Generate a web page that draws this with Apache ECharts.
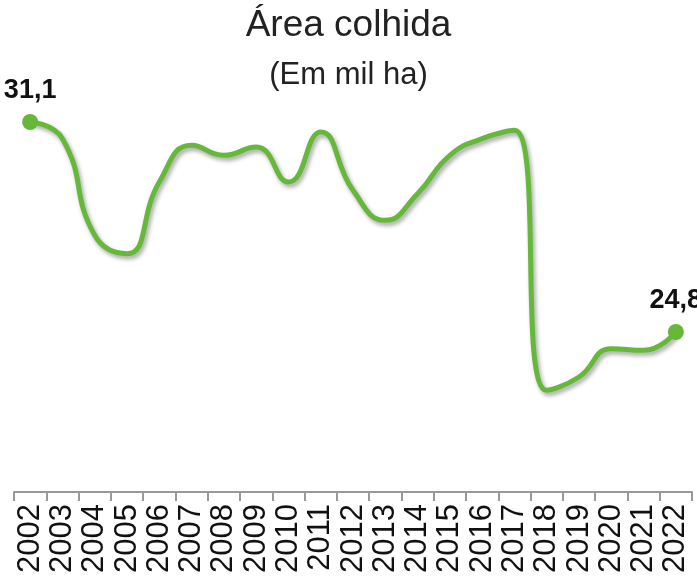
<!DOCTYPE html>
<html>
<head>
<meta charset="utf-8">
<script src="https://cdn.jsdelivr.net/npm/echarts@6/dist/echarts.min.js"></script>
<style>
html, body { margin: 0; padding: 0; background: #fff; }
#area_colhida { width: 697px; height: 581px; }
</style>
</head>
<body>
<div id="area_colhida"></div>
<script>
var anos = ['2002','2003','2004','2005','2006','2007','2008','2009','2010','2011','2012',
            '2013','2014','2015','2016','2017','2018','2019','2020','2021','2022'];
// mil ha
var area = [31.1, 30.6, 27.7, 27.15, 29.3, 30.4, 30.1, 30.35, 29.3, 30.8, 29.05,
            28.15, 28.95, 30.1, 30.6, 30.85, 23.05, 23.45, 24.3, 24.25, 24.8];

(function (bidDiv) {
    var last = area.length - 1;
    var dados = area.map(function (v, i) {
        if (i === 0 || i === last) {
            return { value: v, symbolSize: 16, label: { show: true } };
        }
        return { value: v, symbol: 'none' };
    });

    option = {
        title : {
            text: 'Área colhida',
            subtext: '(Em mil ha)',
            left: 'center',
            top: 2,
            itemGap: 16,
            textStyle: { fontFamily: 'Liberation Sans', fontSize: 37, fontWeight: 'normal', color: '#222' },
            subtextStyle: { fontFamily: 'Liberation Sans', fontSize: 31, color: '#222' }
        },
        grid : { left: 14, right: 5, top: 92, bottom: 89 },
        xAxis : [
            {
                type : 'category',
                boundaryGap: true,
                data : anos,
                axisLine: { show: true, lineStyle: { color: '#999', width: 2 } },
                axisTick: { show: true, interval: 0, length: 9, lineStyle: { color: '#999', width: 2 } },
                axisLabel: {
                    rotate: 90,
                    margin: 12,
                    interval: 0,
                    fontFamily: 'Liberation Sans',
                    fontSize: 31,
                    color: '#111'
                }
            }
        ],
        yAxis : [
            {
                type : 'value',
                min: 20,
                max: 32,
                show: false
            }
        ],
        series : [
            {
                name: 'Área colhida',
                type: 'line',
                smooth: 0.5,
                data: dados,
                symbol: 'circle',
                itemStyle: { color: '#66b83a' },
                lineStyle: {
                    color: '#66b83a',
                    width: 5,
                    shadowColor: 'rgba(0,0,0,0.35)',
                    shadowBlur: 4,
                    shadowOffsetX: 2,
                    shadowOffsetY: 3
                },
                label: {
                    show: false,
                    position: 'top',
                    distance: 10,
                    fontFamily: 'Liberation Sans',
                    fontSize: 27,
                    fontWeight: 'bold',
                    color: '#111',
                    formatter: function (p) { return String(p.value).replace('.', ','); }
                }
            }
        ]
    };

    var myChart = echarts.init(document.getElementById(bidDiv));
    myChart.setOption(option);
})("area_colhida");
</script>
</body>
</html>
